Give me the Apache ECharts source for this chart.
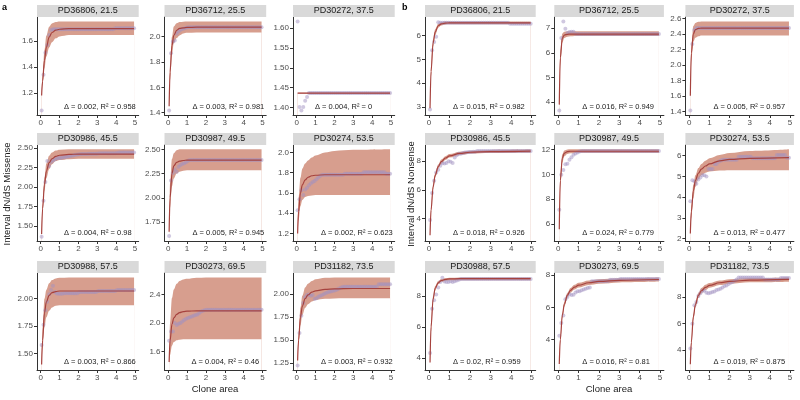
<!DOCTYPE html>
<html><head><meta charset="utf-8">
<script src="https://cdn.jsdelivr.net/npm/echarts@6/dist/echarts.min.js"></script>
<style>html,body{margin:0;padding:0;background:#fff}#c{width:800px;height:400px}</style>
</head><body><div id="c"></div>
<script>
// ---------- data ----------
const clone = [0.05,0.15,0.25,0.35,0.45,0.55,0.65,0.75,0.85,0.95,1.05,1.15,1.25,1.35,1.45,1.55,1.65,1.75,1.85,1.95,
2.05,2.15,2.25,2.35,2.45,2.55,2.65,2.75,2.85,2.95,3.05,3.15,3.25,3.35,3.45,3.55,3.65,3.75,3.85,3.95,
4.05,4.15,4.25,4.35,4.45,4.55,4.65,4.75,4.85,4.95];
const curveX = [0.05,0.1,0.2,0.3,0.45,0.6,0.8,1,1.5,2,3,4.95];
const xTicks = [0,1,2,3,4,5];
const sampleNames = ['PD36806, 21.5','PD36712, 25.5','PD30272, 37.5','PD30986, 45.5','PD30987, 49.5','PD30274, 53.5','PD30988, 57.5','PD30273, 69.5','PD31182, 73.5'];
const missDelta = ['0.002','0.003','0.004','0.004','0.005','0.002','0.003','0.004','0.003'];
const missR2 = ['0.958','0.981','0','0.98','0.945','0.623','0.866','0.46','0.932'];
const nonsDelta = ['0.015','0.016','0.005','0.018','0.024','0.013','0.02','0.016','0.019'];
const nonsR2 = ['0.982','0.949','0.957','0.926','0.779','0.477','0.959','0.81','0.875'];

// Missense panels
const m1_pts = [1.064,1.339,1.509,1.569,1.645,1.684,1.69,1.69,1.69,1.69,
1.69,1.69,1.69,1.69,1.69,1.69,1.69,1.69,1.69,1.69,
1.69,1.69,1.69,1.69,1.69,1.69,1.69,1.69,1.69,1.69,
1.69,1.69,1.69,1.69,1.69,1.69,1.69,1.69,1.69,1.698,
1.698,1.698,1.698,1.698,1.698,1.698,1.698,1.698,1.698,1.698];
const m1_fit = [1.18,1.29,1.45,1.55,1.63,1.665,1.683,1.69,1.695,1.695,1.695,1.695];
const m1_lo = [1.17,1.26,1.39,1.48,1.55,1.59,1.62,1.635,1.645,1.645,1.645,1.645];
const m1_hi = [1.19,1.33,1.53,1.64,1.71,1.735,1.745,1.75,1.75,1.75,1.75,1.75];
const m1_ticks = ['1.2','1.4','1.6'];

const m2_pts = [1.417,1.87,1.959,1.97,2.024,2.043,2.054,2.06,2.065,2.07,
2.075,2.075,2.075,2.075,2.075,2.075,2.075,2.075,2.075,2.075,
2.075,2.075,2.075,2.075,2.075,2.075,2.075,2.075,2.075,2.075,
2.075,2.075,2.075,2.075,2.075,2.075,2.075,2.075,2.075,2.075,
2.075,2.075,2.075,2.075,2.075,2.075,2.075,2.075,2.075,2.075];
const m2_fit = [1.45,1.72,1.93,2.01,2.05,2.065,2.07,2.073,2.075,2.075,2.075,2.075];
const m2_lo = [1.43,1.66,1.86,1.95,1.99,2.01,2.025,2.03,2.032,2.032,2.032,2.032];
const m2_hi = [1.47,1.78,2.0,2.08,2.105,2.115,2.118,2.119,2.12,2.12,2.12,2.12];
const m2_ticks = ['1.4','1.6','1.8','2.0'];

const m3_pts = [1.617,1.401,1.392,1.401,1.417,1.426,1.436,1.436,1.436,1.436,
1.436,1.436,1.436,1.436,1.436,1.436,1.436,1.436,1.436,1.436,
1.436,1.436,1.436,1.436,1.436,1.436,1.436,1.436,1.436,1.436,
1.436,1.436,1.436,1.436,1.436,1.436,1.436,1.436,1.436,1.436,
1.436,1.436,1.436,1.436,1.436,1.436,1.436,1.436,1.436,1.436];
const m3_fit = [1.436,1.436,1.436,1.436,1.436,1.436,1.436,1.436,1.436,1.436,1.436,1.436];
const m3_lo = [1.435,1.435,1.435,1.435,1.435,1.435,1.435,1.435,1.435,1.435,1.435,1.435];
const m3_hi = [1.437,1.437,1.437,1.437,1.437,1.437,1.437,1.437,1.437,1.437,1.437,1.437];
const m3_ticks = ['1.40','1.45','1.50','1.55','1.60'];

const m4_pts = [1.365,1.823,2.064,2.331,2.267,2.318,2.339,2.351,2.365,2.37,
2.37,2.375,2.38,2.385,2.39,2.395,2.4,2.405,2.41,2.415,
2.418,2.42,2.42,2.42,2.422,2.424,2.425,2.425,2.425,2.425,
2.428,2.43,2.43,2.43,2.43,2.43,2.43,2.43,2.43,2.43,
2.435,2.44,2.44,2.44,2.44,2.44,2.44,2.44,2.44,2.44];
const m4_fit = [1.40,1.72,2.03,2.2,2.31,2.36,2.39,2.405,2.415,2.42,2.42,2.42];
const m4_lo = [1.39,1.66,1.95,2.11,2.23,2.29,2.33,2.345,2.355,2.36,2.36,2.36];
const m4_hi = [1.42,1.78,2.12,2.30,2.40,2.44,2.465,2.475,2.48,2.48,2.48,2.48];
const m4_ticks = ['1.50','1.75','2.00','2.25','2.50'];

const m5_pts = [1.607,2.178,2.257,2.293,2.268,2.321,2.339,2.35,2.357,2.368,
2.382,2.39,2.39,2.39,2.39,2.39,2.39,2.39,2.39,2.39,
2.39,2.39,2.39,2.39,2.39,2.39,2.39,2.39,2.39,2.39,
2.39,2.39,2.39,2.39,2.39,2.39,2.39,2.39,2.39,2.39,
2.39,2.39,2.39,2.39,2.39,2.39,2.39,2.39,2.39,2.39];
const m5_fit = [1.65,2.0,2.25,2.33,2.365,2.378,2.385,2.39,2.39,2.39,2.39,2.39];
const m5_lo = [1.60,1.90,2.12,2.20,2.25,2.27,2.28,2.285,2.285,2.285,2.285,2.285];
const m5_hi = [1.70,2.15,2.40,2.46,2.49,2.50,2.50,2.50,2.50,2.50,2.50,2.50];
const m5_ticks = ['1.75','2.00','2.25','2.50'];

const m6_pts = [1.429,1.538,1.628,1.58,1.635,1.651,1.677,1.693,1.709,1.719,
1.735,1.755,1.77,1.78,1.78,1.78,1.78,1.78,1.78,1.78,
1.78,1.78,1.78,1.78,1.78,1.79,1.79,1.79,1.79,1.79,
1.79,1.79,1.79,1.79,1.79,1.805,1.805,1.805,1.805,1.805,
1.805,1.805,1.805,1.805,1.805,1.805,1.805,1.79,1.79,1.79];
const m6_fit = [1.20,1.42,1.60,1.68,1.73,1.755,1.77,1.775,1.78,1.78,1.78,1.78];
const m6_lo = [1.17,1.33,1.47,1.53,1.56,1.57,1.575,1.58,1.58,1.58,1.58,1.58];
const m6_hi = [1.25,1.55,1.75,1.84,1.89,1.92,1.95,1.97,2.0,2.015,2.025,2.03];
const m6_ticks = ['1.2','1.4','1.6','1.8','2.0'];

const m7_pts = [1.577,1.762,1.894,1.972,2.04,2.08,2.117,2.06,2.048,2.045,
2.045,2.045,2.05,2.05,2.05,2.05,2.05,2.05,2.05,2.05,
2.06,2.06,2.06,2.06,2.06,2.06,2.06,2.06,2.06,2.06,
2.07,2.07,2.07,2.07,2.07,2.07,2.07,2.07,2.07,2.07,
2.08,2.08,2.08,2.08,2.08,2.08,2.08,2.08,2.08,2.08];
const m7_fit = [1.40,1.62,1.87,1.97,2.03,2.055,2.065,2.07,2.07,2.07,2.07,2.07];
const m7_lo = [1.39,1.55,1.74,1.83,1.89,1.92,1.935,1.94,1.941,1.941,1.941,1.941];
const m7_hi = [1.42,1.72,2.0,2.08,2.14,2.17,2.185,2.19,2.194,2.194,2.194,2.194];
const m7_ticks = ['1.50','1.75','2.00'];

const m8_pts = [1.75,1.88,1.88,2.0,1.97,1.99,2.0,2.02,2.04,2.06,
2.07,2.08,2.09,2.1,2.11,2.12,2.14,2.16,2.17,2.18,
2.185,2.185,2.185,2.185,2.185,2.185,2.185,2.185,2.185,2.185,
2.185,2.185,2.185,2.185,2.185,2.185,2.185,2.185,2.185,2.185,
2.185,2.185,2.185,2.185,2.185,2.185,2.185,2.185,2.185,2.185];
const m8_fit = [1.45,1.75,1.98,2.07,2.12,2.145,2.16,2.165,2.17,2.17,2.17,2.17];
const m8_lo = [1.40,1.55,1.68,1.73,1.755,1.765,1.77,1.772,1.772,1.772,1.772,1.772];
const m8_hi = [1.55,2.0,2.35,2.47,2.55,2.59,2.61,2.62,2.635,2.64,2.64,2.64];
const m8_ticks = ['1.6','2.0','2.4'];

const m9_pts = [1.224,1.578,1.765,1.903,1.964,1.989,1.996,1.982,1.99,1.946,
1.953,1.97,1.98,1.99,2.0,2.01,2.02,2.025,2.03,2.035,
2.04,2.05,2.06,2.07,2.08,2.08,2.08,2.08,2.08,2.08,
2.08,2.08,2.08,2.08,2.08,2.08,2.08,2.08,2.08,2.08,
2.08,2.08,2.08,2.105,2.105,2.105,2.105,2.105,2.105,2.105];
const m9_fit = [1.28,1.50,1.75,1.87,1.95,1.99,2.02,2.035,2.05,2.055,2.06,2.06];
const m9_lo = [1.26,1.45,1.66,1.77,1.85,1.89,1.92,1.935,1.948,1.952,1.953,1.953];
const m9_hi = [1.30,1.56,1.85,1.98,2.07,2.11,2.14,2.16,2.175,2.18,2.18,2.18];
const m9_ticks = ['1.25','1.50','1.75','2.00'];

// Nonsense panels
const n1_pts = [2.89,5.39,5.74,5.96,6.57,6.55,6.55,6.55,6.55,6.55,
6.55,6.55,6.55,6.55,6.55,6.55,6.55,6.55,6.55,6.55,
6.55,6.55,6.55,6.55,6.55,6.55,6.55,6.55,6.55,6.55,
6.55,6.55,6.55,6.55,6.55,6.55,6.55,6.55,6.55,6.5,
6.5,6.5,6.5,6.5,6.5,6.5,6.5,6.5,6.5,6.5];
const n1_fit = [2.95,4.5,5.7,6.15,6.42,6.5,6.53,6.54,6.54,6.54,6.54,6.54];
const n1_lo = [2.85,4.3,5.55,6.03,6.34,6.43,6.47,6.48,6.48,6.48,6.48,6.48];
const n1_hi = [3.05,4.7,5.85,6.27,6.5,6.57,6.6,6.6,6.6,6.6,6.6,6.6];
const n1_ticks = ['3','4','5','6'];

const n2_pts = [3.66,6.6,7.27,6.97,6.8,6.84,6.85,6.85,6.77,6.76,
6.76,6.76,6.76,6.76,6.76,6.76,6.76,6.76,6.76,6.76,
6.76,6.76,6.76,6.76,6.76,6.76,6.76,6.76,6.76,6.76,
6.76,6.76,6.76,6.76,6.76,6.76,6.76,6.76,6.76,6.76,
6.76,6.76,6.76,6.76,6.76,6.76,6.76,6.76,6.76,6.76];
const n2_fit = [3.9,5.8,6.6,6.72,6.75,6.76,6.76,6.76,6.76,6.76,6.76,6.76];
const n2_lo = [3.8,5.5,6.42,6.6,6.65,6.67,6.68,6.68,6.68,6.68,6.68,6.68];
const n2_hi = [4.0,6.1,6.78,6.85,6.87,6.87,6.87,6.87,6.87,6.87,6.87,6.87];
const n2_ticks = ['4','5','6','7'];

const n3_pts = [1.41,2.27,2.45,2.474,2.474,2.474,2.474,2.474,2.474,2.474,
2.474,2.474,2.474,2.474,2.474,2.474,2.474,2.474,2.474,2.474,
2.474,2.474,2.474,2.474,2.474,2.474,2.474,2.474,2.474,2.474,
2.474,2.474,2.474,2.474,2.474,2.474,2.474,2.474,2.474,2.474,
2.474,2.474,2.474,2.474,2.474,2.474,2.474,2.474,2.474,2.474];
const n3_fit = [1.6,2.15,2.4,2.455,2.47,2.475,2.475,2.475,2.475,2.475,2.475,2.475];
const n3_lo = [1.55,2.05,2.3,2.35,2.37,2.38,2.38,2.38,2.38,2.38,2.38,2.38];
const n3_hi = [1.65,2.25,2.5,2.54,2.555,2.56,2.56,2.56,2.56,2.56,2.56,2.56];
const n3_ticks = ['1.4','1.6','1.8','2.0','2.2','2.4','2.6'];

const n4_pts = [3.9,5.78,6.63,7.2,7.38,7.66,7.84,7.82,7.85,7.98,
7.95,7.85,8.23,8.39,8.5,8.5,8.55,8.58,8.6,8.62,
8.62,8.63,8.64,8.69,8.69,8.69,8.69,8.69,8.69,8.69,
8.69,8.69,8.69,8.69,8.69,8.69,8.69,8.69,8.69,8.69,
8.69,8.69,8.69,8.69,8.69,8.69,8.69,8.69,8.69,8.69];
const n4_fit = [2.85,4.6,6.2,7.0,7.6,7.95,8.2,8.35,8.52,8.6,8.65,8.68];
const n4_lo = [2.75,4.45,6.05,6.85,7.45,7.8,8.07,8.23,8.41,8.5,8.55,8.57];
const n4_hi = [2.95,4.75,6.35,7.15,7.75,8.1,8.33,8.47,8.63,8.7,8.76,8.8];
const n4_ticks = ['4','6','8'];

const n5_pts = [7.15,9.96,10.34,10.8,10.85,11.16,11.36,11.56,11.66,11.74,
11.82,11.87,11.87,11.87,11.87,11.87,11.87,11.87,11.87,11.87,
11.87,11.87,11.87,11.87,11.87,11.87,11.87,11.87,11.87,11.87,
11.87,11.87,11.87,11.87,11.87,11.87,11.87,11.87,11.87,11.87,
11.87,11.87,11.87,11.87,11.87,11.87,11.87,11.87,11.87,11.87];
const n5_fit = [5.6,9.5,11.3,11.7,11.82,11.85,11.85,11.85,11.85,11.85,11.85,11.85];
const n5_lo = [5.0,9.0,10.95,11.45,11.63,11.68,11.7,11.7,11.7,11.7,11.7,11.7];
const n5_hi = [6.2,10.0,11.6,11.9,11.98,12.0,12.0,12.0,12.0,12.0,12.0,12.0];
const n5_ticks = ['6','8','10','12'];

const n6_pts = [3.8,4.81,4.76,4.65,4.85,4.95,5.05,5.05,5.0,5.35,
5.35,5.35,5.6,5.6,5.7,5.75,5.8,5.8,5.8,5.8,
5.8,5.8,5.8,5.8,5.95,5.95,5.95,5.95,5.95,5.95,
5.95,5.87,5.87,5.87,5.87,5.87,5.87,5.87,5.87,5.87,
5.87,5.87,5.87,6.03,6.03,6.03,6.03,6.03,5.9,5.9];
const n6_fit = [2.25,3.3,4.3,4.8,5.15,5.35,5.5,5.6,5.75,5.82,5.87,5.9];
const n6_lo = [2.1,3.0,3.95,4.5,4.85,5.05,5.18,5.24,5.28,5.3,5.3,5.3];
const n6_hi = [2.4,3.6,4.6,5.05,5.4,5.6,5.75,5.87,6.03,6.12,6.22,6.3];
const n6_ticks = ['2','3','4','5','6'];

const n7_pts = [4.32,7.17,7.73,8.1,8.54,8.9,9.17,8.94,8.9,8.9,
8.95,8.9,8.95,9.0,9.05,9.1,9.1,9.1,9.1,9.1,
9.1,9.1,9.1,9.1,9.1,9.1,9.1,9.1,9.1,9.1,
9.1,9.1,9.1,9.1,9.1,9.1,9.1,9.1,9.1,9.1,
9.1,9.1,9.1,9.1,9.1,9.1,9.1,9.1,9.1,9.1];
const n7_fit = [3.7,6.0,7.8,8.5,8.85,9.0,9.07,9.1,9.12,9.12,9.12,9.12];
const n7_lo = [3.5,5.7,7.6,8.35,8.75,8.9,8.97,9.0,9.02,9.02,9.02,9.02];
const n7_hi = [3.9,6.3,8.0,8.65,8.97,9.1,9.15,9.18,9.2,9.2,9.2,9.2];
const n7_ticks = ['4','6','8'];

const n8_pts = [4.25,5.04,5.5,6.5,6.64,6.81,6.77,6.78,6.92,7.0,
7.0,7.05,7.1,7.15,7.2,7.22,7.62,7.62,7.62,7.62,
7.62,7.62,7.62,7.62,7.62,7.7,7.7,7.7,7.7,7.7,
7.75,7.75,7.75,7.75,7.75,7.75,7.75,7.75,7.75,7.75,
7.75,7.75,7.75,7.75,7.75,7.75,7.75,7.75,7.75,7.75];
const n8_fit = [2.5,4.0,5.5,6.2,6.75,7.05,7.25,7.37,7.52,7.6,7.67,7.72];
const n8_lo = [2.4,3.85,5.35,6.05,6.6,6.9,7.1,7.22,7.38,7.46,7.54,7.59];
const n8_hi = [2.6,4.15,5.65,6.35,6.9,7.2,7.4,7.52,7.66,7.74,7.8,7.85];
const n8_ticks = ['4','6','8'];

const n9_pts = [4.13,5.99,7.36,7.61,8.05,8.26,8.46,8.46,8.3,8.26,
8.3,8.35,8.4,8.5,8.55,8.6,8.7,8.8,8.85,8.95,
9.05,9.1,9.2,9.3,9.45,9.45,9.45,9.45,9.45,9.45,
9.45,9.45,9.45,9.45,9.45,9.45,9.45,9.3,9.3,9.3,
9.3,9.3,9.3,9.3,9.3,9.4,9.4,9.4,9.4,9.4];
const n9_fit = [2.95,4.6,6.5,7.4,8.1,8.45,8.7,8.85,9.05,9.15,9.25,9.3];
const n9_lo = [2.85,4.4,6.3,7.2,7.9,8.25,8.5,8.67,8.88,8.98,9.08,9.13];
const n9_hi = [3.05,4.8,6.7,7.6,8.3,8.65,8.9,9.03,9.22,9.32,9.4,9.45];
const n9_ticks = ['4','6','8'];

// ---------- layout & style ----------
const FONT = '"Liberation Sans", Arial, Helvetica, sans-serif';
const RIBBON = '#d79e8e';
const POINT = '#a291c2';
const LINE = '#a6423e';
const AXIS = '#333333';
const LABEL = '#4d4d4d';
const rowTop = [17, 145, 273];
const rowBot = [115, 241, 370];
const stripH = 12;

const groups = [
  { cols: [[37,101.7],[164.5,101.7],[293,101.7]],
    pts: [m1_pts,m2_pts,m3_pts,m4_pts,m5_pts,m6_pts,m7_pts,m8_pts,m9_pts],
    fit: [m1_fit,m2_fit,m3_fit,m4_fit,m5_fit,m6_fit,m7_fit,m8_fit,m9_fit],
    lo: [m1_lo,m2_lo,m3_lo,m4_lo,m5_lo,m6_lo,m7_lo,m8_lo,m9_lo],
    hi: [m1_hi,m2_hi,m3_hi,m4_hi,m5_hi,m6_hi,m7_hi,m8_hi,m9_hi],
    ticks: [m1_ticks,m2_ticks,m3_ticks,m4_ticks,m5_ticks,m6_ticks,m7_ticks,m8_ticks,m9_ticks],
    delta: missDelta, r2: missR2, annOff: [27,28,22,27,28,28,27,27,28] },
  { cols: [[425,110.7],[554.3,109.6],[685.4,108.5]],
    pts: [n1_pts,n2_pts,n3_pts,n4_pts,n5_pts,n6_pts,n7_pts,n8_pts,n9_pts],
    fit: [n1_fit,n2_fit,n3_fit,n4_fit,n5_fit,n6_fit,n7_fit,n8_fit,n9_fit],
    lo: [n1_lo,n2_lo,n3_lo,n4_lo,n5_lo,n6_lo,n7_lo,n8_lo,n9_lo],
    hi: [n1_hi,n2_hi,n3_hi,n4_hi,n5_hi,n6_hi,n7_hi,n8_hi,n9_hi],
    ticks: [n1_ticks,n2_ticks,n3_ticks,n4_ticks,n5_ticks,n6_ticks,n7_ticks,n8_ticks,n9_ticks],
    delta: nonsDelta, r2: nonsR2, annOff: [28,28,28,28,28,28,28,28,28] }
];

const grid = [], xAxis = [], yAxis = [], series = [], graphic = [];
let k = 0;
groups.forEach(g => {
  for (let i = 0; i < 9; i++) {
    const row = Math.floor(i / 3), col = i % 3;
    const left = g.cols[col][0], width = g.cols[col][1];
    const top = rowTop[row], height = rowBot[row] - rowTop[row];
    const pts = g.pts[i], fit = g.fit[i], lo = g.lo[i], hi = g.hi[i], ticks = g.ticks[i];
    const all = pts.concat(fit, lo, hi);
    const dmin = Math.min.apply(null, all), dmax = Math.max.apply(null, all);
    const pad = (dmax - dmin) * 0.05;
    const xs = clone;
    const xmin = xs[0] - (xs[xs.length-1] - xs[0]) * 0.05;
    const xmax = xs[xs.length-1] + (xs[xs.length-1] - xs[0]) * 0.05;
    const tickVals = ticks.map(Number);

    grid.push({ left: left, top: top, width: width, height: height, containLabel: false });
    xAxis.push({
      gridIndex: k, type: 'value', min: xmin, max: xmax, z: 10,
      axisLine: { show: true, onZero: false, lineStyle: { color: AXIS, width: 1 } },
      axisTick: { show: true, length: 3, customValues: xTicks, lineStyle: { color: AXIS } },
      axisLabel: { customValues: xTicks, fontSize: 8, color: LABEL, margin: 4, fontFamily: FONT },
      splitLine: { show: false }
    });
    yAxis.push({
      gridIndex: k, type: 'value', min: dmin - pad, max: dmax + pad, z: 10,
      axisLine: { show: true, onZero: false, lineStyle: { color: AXIS, width: 1 } },
      axisTick: { show: true, length: 3, customValues: tickVals, lineStyle: { color: AXIS } },
      axisLabel: { customValues: tickVals, fontSize: 8, color: LABEL, margin: 4, fontFamily: FONT,
        formatter: (v) => { const j = tickVals.findIndex(t => Math.abs(t - v) < 1e-9); return j >= 0 ? ticks[j] : ''; } },
      splitLine: { show: false }
    });
    // ribbon (upper area) then white mask below lower bound
    series.push({ type: 'line', xAxisIndex: k, yAxisIndex: k, data: curveX.map((x, j) => [x, hi[j]]),
      symbol: 'none', smooth: 0.35, smoothMonotone: 'x', silent: true, z: 1,
      lineStyle: { width: 0, opacity: 0 }, areaStyle: { color: RIBBON, opacity: 1, origin: 'start' } });
    series.push({ type: 'line', xAxisIndex: k, yAxisIndex: k, data: curveX.map((x, j) => [x, lo[j]]),
      symbol: 'none', smooth: 0.35, smoothMonotone: 'x', silent: true, z: 2,
      lineStyle: { width: 0, opacity: 0 }, areaStyle: { color: '#ffffff', opacity: 1, origin: 'start' } });
    series.push({ type: 'scatter', xAxisIndex: k, yAxisIndex: k, data: xs.map((x, j) => [x, pts[j]]),
      symbolSize: 4, silent: true, z: 3, itemStyle: { color: POINT, opacity: 0.5 } });
    series.push({ type: 'line', xAxisIndex: k, yAxisIndex: k, data: curveX.map((x, j) => [x, fit[j]]),
      symbol: 'none', smooth: 0.35, smoothMonotone: 'x', silent: true, z: 4,
      lineStyle: { color: LINE, width: 1.2 } });

    // strip
    graphic.push({ type: 'rect', silent: true, z: 50, shape: { x: left, y: top - stripH, width: width, height: stripH },
      style: { fill: '#d9d9d9' } });
    graphic.push({ type: 'text', silent: true, z: 51, x: left + width / 2, y: top - stripH / 2,
      style: { text: sampleNames[i], font: '9px ' + FONT, fill: '#1a1a1a', textAlign: 'center', textVerticalAlign: 'middle' } });
    // annotation
    graphic.push({ type: 'text', silent: true, z: 60, x: left + g.annOff[i], y: top + height - 8,
      style: { text: '\u0394 = ' + g.delta[i] + ', R\u00b2 = ' + g.r2[i], font: '7.5px ' + FONT, fill: '#1a1a1a',
        textAlign: 'left', textVerticalAlign: 'middle' } });
    k++;
  }
});

// titles & panel letters
graphic.push({ type: 'text', silent: true, z: 60, x: 7, y: 194, rotation: Math.PI / 2,
  style: { text: 'Interval dN/dS Missense', font: '9.5px ' + FONT, fill: '#1a1a1a', textAlign: 'center', textVerticalAlign: 'middle' } });
graphic.push({ type: 'text', silent: true, z: 60, x: 411, y: 194, rotation: Math.PI / 2,
  style: { text: 'Interval dN/dS Nonsense', font: '9.5px ' + FONT, fill: '#1a1a1a', textAlign: 'center', textVerticalAlign: 'middle' } });
graphic.push({ type: 'text', silent: true, z: 60, x: 215, y: 389,
  style: { text: 'Clone area', font: '9.5px ' + FONT, fill: '#1a1a1a', textAlign: 'center', textVerticalAlign: 'middle' } });
graphic.push({ type: 'text', silent: true, z: 60, x: 609, y: 389,
  style: { text: 'Clone area', font: '9.5px ' + FONT, fill: '#1a1a1a', textAlign: 'center', textVerticalAlign: 'middle' } });
graphic.push({ type: 'text', silent: true, z: 60, x: 2, y: 8,
  style: { text: 'a', font: 'bold 9px ' + FONT, fill: '#000', textAlign: 'left', textVerticalAlign: 'middle' } });
graphic.push({ type: 'text', silent: true, z: 60, x: 402, y: 8,
  style: { text: 'b', font: 'bold 9px ' + FONT, fill: '#000', textAlign: 'left', textVerticalAlign: 'middle' } });

const chart = echarts.init(document.getElementById('c'), null, { renderer: 'canvas' });
chart.setOption({ animation: false, backgroundColor: '#ffffff', grid, xAxis, yAxis, series, graphic });
</script>
</body></html>
